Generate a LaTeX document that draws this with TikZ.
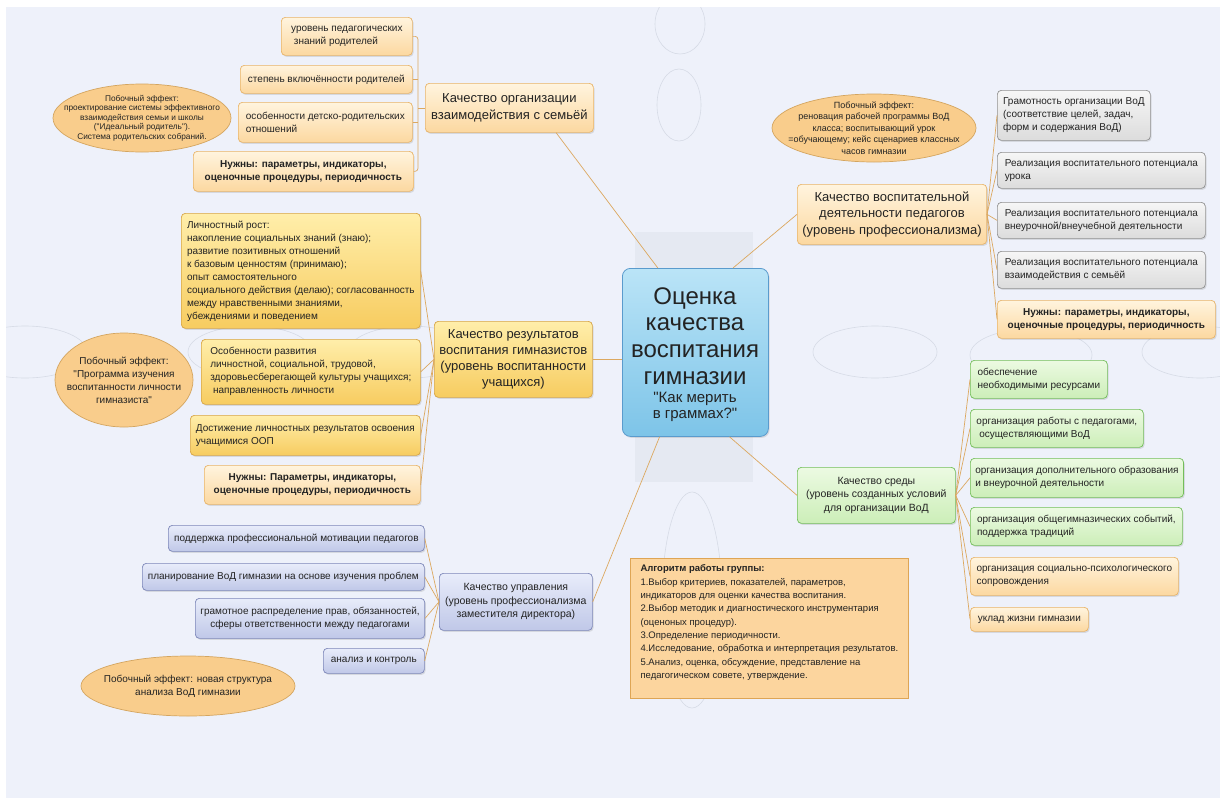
\documentclass[tikz,border=0pt]{standalone}
\usepackage{fontspec}
\setmainfont{Liberation Sans}
\usetikzlibrary{shapes.geometric,shadows}
\definecolor{bgc}{RGB}{238,241,250}
\definecolor{bgrect}{RGB}{229,233,242}
\definecolor{decor}{RGB}{214,219,230}
\definecolor{lnc}{RGB}{220,168,95}
\definecolor{txt}{RGB}{35,35,35}
\definecolor{orT}{RGB}{255,244,222}
\definecolor{orB}{RGB}{252,216,160}
\definecolor{orD}{RGB}{232,180,105}
\definecolor{goT}{RGB}{255,238,170}
\definecolor{goB}{RGB}{247,204,96}
\definecolor{goD}{RGB}{215,165,70}
\definecolor{grT}{RGB}{246,246,246}
\definecolor{grB}{RGB}{220,220,220}
\definecolor{grD}{RGB}{145,145,145}
\definecolor{blT}{RGB}{232,236,250}
\definecolor{blB}{RGB}{192,200,232}
\definecolor{blD}{RGB}{125,135,185}
\definecolor{gnT}{RGB}{236,250,226}
\definecolor{gnB}{RGB}{204,238,184}
\definecolor{gnD}{RGB}{115,190,90}
\definecolor{elF}{RGB}{249,205,140}
\definecolor{elD}{RGB}{212,165,95}
\definecolor{ceT}{RGB}{186,228,247}
\definecolor{ceB}{RGB}{125,196,232}
\definecolor{ceD}{RGB}{90,155,205}
\definecolor{alF}{RGB}{252,213,158}
\definecolor{alD}{RGB}{222,165,85}
\newcommand\szA{\fontsize{10}{13}\selectfont}
\newcommand\szB{\fontsize{13}{16.3}\selectfont}
\newcommand\szC{\fontsize{10.5}{13.5}\selectfont}
\newcommand\szE{\fontsize{8.3}{9.5}\selectfont}
\newcommand\szF{\fontsize{9}{11.5}\selectfont}
\newcommand\szG{\fontsize{9.5}{13.3}\selectfont}
\newcommand\qq{\textquotedbl}
\begin{document}
\begin{tikzpicture}[x=1pt,y=-1pt,
  every node/.style={text=txt},
  bx/.style={draw, rounded corners=4pt, line width=0.7pt, inner xsep=5pt, inner ysep=2pt,
    anchor=north west, align=left, font=\szA,
    drop shadow={shadow xshift=1.2pt, shadow yshift=-1.5pt, opacity=0.22}},
  ob/.style={bx, draw=orD, top color=orT, bottom color=orB},
  gb/.style={bx, draw=goD, top color=goT, bottom color=goB},
  yb/.style={bx, draw=grD, top color=grT, bottom color=grB},
  bb/.style={bx, draw=blD, top color=blT, bottom color=blB},
  nb/.style={bx, draw=gnD, top color=gnT, bottom color=gnB},
  need/.style={ob, align=center, font=\szA\bfseries},
  side/.style={ellipse, draw=elD, fill=elF, line width=0.7pt, inner sep=0pt},
  cn/.style={draw=lnc, line width=0.7pt},
  dec/.style={draw=decor, line width=0.6pt}]
\fill[white] (0,0) rectangle (1220,798);
\fill[bgc] (6,7) rectangle (1220,798);
\useasboundingbox (0,0) rectangle (1220,798);
\begin{scope}
\clip (6,7) rectangle (1220,798);
\draw[dec] (680,24) ellipse [x radius=25, y radius=30];
\draw[dec] (679,105) ellipse [x radius=22, y radius=36];
\draw[dec] (692,600) ellipse [x radius=30, y radius=108];
\draw[dec] (875,352) ellipse [x radius=62, y radius=26];
\draw[dec] (1031,355) ellipse [x radius=61, y radius=26];
\draw[dec] (1200,352) ellipse [x radius=58, y radius=26];
\draw[dec] (25,352) ellipse [x radius=62, y radius=26];
\draw[dec] (250,352) ellipse [x radius=62, y radius=26];
\draw[dec] (410,352) ellipse [x radius=62, y radius=26];
\end{scope}
\fill[bgrect] (635,232) rectangle (753,482);

% ---------- top-left: family ----------
\node[ob, minimum width=131, minimum height=38] (f1) at (281,17) {уровень педагогических\\\ знаний родителей};
\node[ob, minimum width=172, minimum height=28] (f2) at (240,65) {степень включённости родителей};
\node[ob, minimum width=174, minimum height=40] (f3) at (238,102) {особенности детско-родительских\\отношений};
\node[need, minimum width=220, minimum height=40] (f4) at (193,151) {Нужны: параметры, индикаторы,\\оценочные процедуры, периодичность};
\node[ob, align=center, font=\szB, minimum width=168, minimum height=49] (fm) at (425,83) {Качество организации\\взаимодействия с семьёй};
\node[side, minimum width=178, minimum height=68,
  label={[font=\szE, align=center]center:Побочный эффект:\\проектирование системы эффективного\\взаимодействия семьи и школы\\(\qq Идеальный родитель\qq).\\Система родительских собраний.}] (fe) at (142,118) {};

% ---------- middle-left: results ----------
\node[gb, minimum width=239, minimum height=115] (r1) at (181,213) {Личностный рост:\\накопление социальных знаний (знаю);\\развитие позитивных отношений\\к базовым ценностям (принимаю);\\опыт самостоятельного\\социального действия (делаю); согласованность\\между нравственными знаниями,\\убеждениями и поведением};
\node[gb, minimum width=219, minimum height=65] (r2) at (201,339) {Особенности развития\\личностной, социальной, трудовой,\\здоровьесберегающей культуры учащихся;\\\ направленность личности};
\node[gb, minimum width=230, minimum height=40] (r3) at (190,415) {Достижение личностных результатов освоения\\учащимися ООП};
\node[need, minimum width=216, minimum height=39] (r4) at (204,465) {Нужны: Параметры, индикаторы,\\оценочные процедуры, периодичность};
\node[gb, align=center, font=\szB, minimum width=158, minimum height=76] (rm) at (434,321) {Качество результатов\\воспитания гимназистов\\(уровень воспитанности\\учащихся)};
\node[side, minimum width=138, minimum height=94,
  label={[font=\szA, align=center]center:Побочный эффект:\\\qq Программа изучения\\воспитанности личности\\гимназиста\qq}] (re) at (124,380) {};

% ---------- bottom-left: management ----------
\node[bb, minimum width=256, minimum height=26] (u1) at (168,525) {поддержка профессиональной мотивации педагогов};
\node[bb, minimum width=282, minimum height=27] (u2) at (142,563) {планирование ВоД гимназии на основе изучения проблем};
\node[bb, align=center, minimum width=229, minimum height=40] (u3) at (195,598) {грамотное распределение прав, обязанностей,\\сферы ответственности между педагогами};
\node[bb, minimum width=101, minimum height=25] (u4) at (323,648) {анализ и контроль};
\node[bb, align=center, font=\szC, minimum width=153, minimum height=57] (um) at (439,573) {Качество управления\\(уровень профессионализма\\заместителя директора)};
\node[side, minimum width=214, minimum height=60,
  label={[font=\szA, align=center]center:Побочный эффект: новая структура\\анализа ВоД гимназии}] (ue) at (188,686) {};

% ---------- centre ----------
\node[draw=ceD, line width=0.8pt, rounded corners=8pt, top color=ceT, bottom color=ceB,
  minimum width=146, minimum height=168, anchor=north west, inner sep=0pt,
  drop shadow={shadow xshift=1.2pt, shadow yshift=-1.5pt, opacity=0.22}] (c) at (622,268) {};
\node[align=center, font=\fontsize{24}{26.7}\selectfont] (ct1) at (695,336) {Оценка\\качества\\воспитания\\гимназии};
\node[align=center, font=\fontsize{15}{16.7}\selectfont] (ct2) at (695,407) {\qq Как мерить\\в граммах?\qq};

% ---------- top-right: teachers ----------
\node[side, minimum width=204, minimum height=68,
  label={[font=\szF, align=center]center:Побочный эффект:\\реновация рабочей программы ВоД\\класса; воспитывающий урок\\=обучающему; кейс сценариев классных\\часов гимназии}] (te) at (874,128) {};
\node[ob, align=center, font=\szB, minimum width=185, minimum height=60] (tm) at (797,184) {Качество воспитательной\\деятельности педагогов\\(уровень профессионализма)};
\node[yb, minimum width=153, minimum height=50] (g1) at (997,90) {Грамотность организации ВоД\\(соответствие целей, задач,\\форм и содержания ВоД)};
\node[yb, minimum width=208, minimum height=36] (g2) at (997,152) {Реализация воспитательного потенциала\\урока};
\node[yb, minimum width=208, minimum height=36] (g3) at (997,202) {Реализация воспитательного потенциала\\внеурочной/внеучебной деятельности};
\node[yb, minimum width=208, minimum height=37] (g4) at (997,251) {Реализация воспитательного потенциала\\взаимодействия с семьёй};
\node[need, minimum width=218, minimum height=38] (g5) at (997,300) {Нужны: параметры, индикаторы,\\оценочные процедуры, периодичность};

% ---------- right: environment ----------
\node[nb, align=center, font=\szC, minimum width=158, minimum height=56] (sm) at (797,467) {Качество среды\\(уровень созданных условий\\для организации ВоД};
\node[nb, minimum width=137, minimum height=38] (s1) at (970,360) {обеспечение\\необходимыми ресурсами};
\node[nb, minimum width=173, minimum height=38] (s2) at (970,409) {организация работы с педагогами,\\\ осуществляющими ВоД};
\node[nb, minimum width=213, minimum height=39] (s3) at (970,458) {организация дополнительного образования\\и внеурочной деятельности};
\node[nb, minimum width=212, minimum height=38] (s4) at (970,507) {организация общегимназических событий,\\поддержка традиций};
\node[ob, minimum width=208, minimum height=38] (s5) at (970,557) {организация социально-психологического\\сопровождения};
\node[ob, minimum width=118, minimum height=24] (s6) at (970,607) {уклад жизни гимназии};

% ---------- algorithm ----------
\node[draw=alD, fill=alF, line width=0.7pt, anchor=north west, align=left, font=\szG,
  minimum width=278, minimum height=140, inner xsep=4pt, inner ysep=2pt] (al) at (630,558)
  {\textbf{Алгоритм работы группы:}\\1.Выбор критериев, показателей, параметров,\\индикаторов для оценки качества воспитания.\\2.Выбор методик и диагностического инструментария\\(оценоных процедур).\\3.Определение периодичности.\\4.Исследование, обработка и интерпретация результатов.\\5.Анализ, оценка, обсуждение, представление на\\педагогическом совете, утверждение.\\\mbox{}};

% ---------- connectors ----------
\coordinate (fb) at (418,108);
\draw[cn, rounded corners=3pt] (f1.east) -| (fb) |- (f4.east);
\draw[cn] (f2.east) -- (f2.east -| fb);
\draw[cn] (f3.east) -- (f3.east -| fb);
\draw[cn] (fm.west) -- (fm.west -| fb);
\foreach \n in {r1,r2,r3,r4} \draw[cn] (rm.west) -- (\n.east);
\foreach \n in {u1,u2,u3,u4} \draw[cn] (um.west) -- (\n.east);
\foreach \n in {g1,g2,g3,g4,g5} \draw[cn] (tm.east) -- (\n.west);
\foreach \n in {s1,s2,s3,s4,s5,s6} \draw[cn] (sm.east) -- (\n.west);
\draw[cn] (c.114) -- (fm.-28);
\draw[cn] (c.66) -- (tm.west);
\draw[cn] (c.west |- rm.east) -- (rm.east);
\draw[cn] (c.247) -- (um.east);
\draw[cn] (c.292) -- (sm.west);
\end{tikzpicture}
\end{document}
